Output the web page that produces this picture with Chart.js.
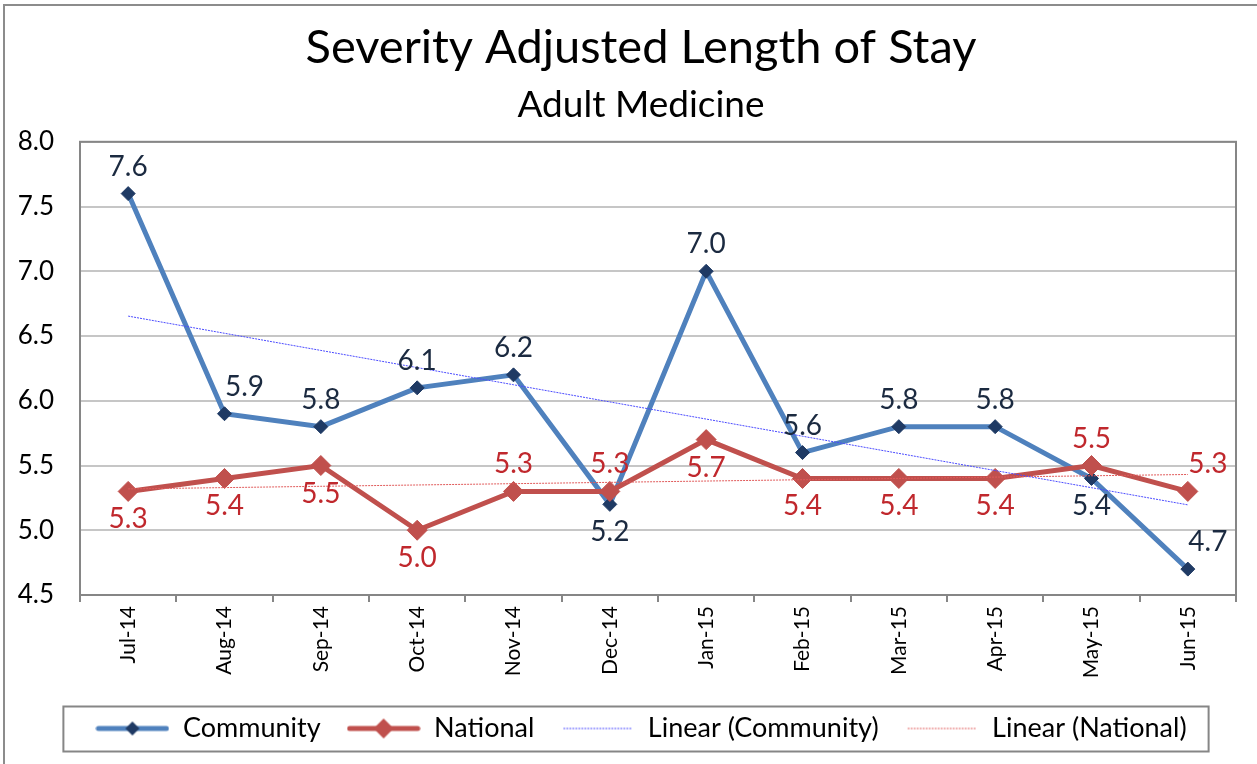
<!DOCTYPE html>
<html lang="en">
<head>
    <meta charset="UTF-8">
    <title>Severity Adjusted Length of Stay</title>
    <script src="https://cdn.jsdelivr.net/npm/chart.js"></script>
    <style>
        body { margin: 0; background: #fff; overflow: hidden; }
        #frame { position: absolute; left: 3px; top: 4px; width: 1272px; height: 790px; border: 2px solid #8c8c8c; background: #fff; }
    </style>
</head>
<body>
    <div id="frame"><canvas id="losChart" width="1272" height="790"></canvas></div>

    <script>
        const months = ['Jul-14', 'Aug-14', 'Sep-14', 'Oct-14', 'Nov-14', 'Dec-14', 'Jan-15', 'Feb-15', 'Mar-15', 'Apr-15', 'May-15', 'Jun-15'];
        const community = [7.6, 5.9, 5.8, 6.1, 6.2, 5.2, 7.0, 5.6, 5.8, 5.8, 5.4, 4.7];
        const national = [5.3, 5.4, 5.5, 5.0, 5.3, 5.3, 5.7, 5.4, 5.4, 5.4, 5.5, 5.3];
        const yMin = 4.5, yMax = 8.0, yStep = 0.5;
        const legendNames = ['Community', 'National', 'Linear (Community)', 'Linear (National)'];

        // where each value label sits relative to its point
        const communityLabelPos = ['up', 'upRight', 'up', 'up', 'up', 'down', 'up', 'up', 'up', 'up', 'down', 'upRight'];
        const nationalLabelPos = ['down', 'down', 'down', 'down', 'up', 'up', 'down', 'down', 'down', 'down', 'up', 'upRight'];
        const labelOffsets = { up: [0, -27], down: [0, 28], upRight: [20, -27] };

        const blue = '#4F81BD', navy = '#1F3A64', red = '#C0504D';
        const FONT = 'Lato';

        // least squares line, like the spreadsheet's linear trendline
        function linearTrend(values) {
            const n = values.length;
            const mx = (n - 1) / 2;
            const my = values.reduce((a, b) => a + b, 0) / n;
            let sxy = 0, sxx = 0;
            values.forEach((v, i) => { sxy += (i - mx) * (v - my); sxx += (i - mx) * (i - mx); });
            const slope = sxy / sxx;
            return values.map((v, i) => my + slope * (i - mx));
        }

        function legendIcon(color, markColor, r, width, dash) {
            const c = document.createElement('canvas');
            c.width = 74; c.height = 26;
            const g = c.getContext('2d');
            g.strokeStyle = color;
            g.lineWidth = width;
            g.lineCap = dash ? 'butt' : 'round';
            if (dash) g.setLineDash(dash);
            g.beginPath(); g.moveTo(3, 13); g.lineTo(71, 13); g.stroke();
            if (r) {
                g.fillStyle = markColor;
                g.beginPath();
                g.moveTo(37, 13 - r); g.lineTo(37 + r, 13); g.lineTo(37, 13 + r); g.lineTo(37 - r, 13);
                g.closePath(); g.fill();
            }
            return c;
        }
        const legendIcons = [
            legendIcon(blue, navy, 7, 5),
            legendIcon(red, red, 10, 5),
            legendIcon('#5050ff', null, 0, 1, [2, 1]),
            legendIcon('#e06666', null, 0, 1, [2, 1])
        ];

        const valueLabels = {
            id: 'valueLabels',
            afterDatasetsDraw(chart) {
                const ctx = chart.ctx;
                ctx.save();
                ctx.font = '28px ' + FONT;
                ctx.textAlign = 'center';
                ctx.textBaseline = 'middle';
                [[0, '#1B2A40', communityLabelPos], [1, '#C0282D', nationalLabelPos]].forEach(([di, color, pos]) => {
                    const meta = chart.getDatasetMeta(di);
                    const vals = chart.data.datasets[di].data;
                    meta.data.forEach((pt, i) => {
                        const off = labelOffsets[pos[i]];
                        ctx.fillStyle = color;
                        ctx.fillText(vals[i].toFixed(1), pt.x + off[0], pt.y + off[1]);
                    });
                });
                ctx.restore();
            }
        };

        const boxes = {
            id: 'boxes',
            beforeDatasetsDraw(chart) {
                const { ctx, chartArea: a } = chart;
                ctx.save();
                ctx.strokeStyle = '#868686';
                ctx.lineWidth = 2;
                ctx.strokeRect(a.left, a.top, a.right - a.left, a.bottom - a.top);
                ctx.restore();
            },
            afterDraw(chart) {
                const hb = chart.legend.legendHitBoxes;
                if (!hb || !hb.length) return;
                const last = hb[hb.length - 1];
                const cy = hb[0].top + hb[0].height / 2;
                const ctx = chart.ctx;
                ctx.save();
                ctx.strokeStyle = '#868686';
                ctx.lineWidth = 2;
                ctx.strokeRect(hb[0].left - 32, cy - 22, last.left + last.width + 22 - (hb[0].left - 32), 45);
                ctx.restore();
            }
        };

        new Chart(document.getElementById('losChart'), {
            type: 'line',
            data: {
                labels: months,
                datasets: [
                    {
                        label: 'Community', data: community, order: 3,
                        borderColor: blue, borderWidth: 5, backgroundColor: navy,
                        pointStyle: 'rectRot', pointRadius: 7, pointBackgroundColor: navy, pointBorderColor: navy, pointBorderWidth: 1
                    },
                    {
                        label: 'National', data: national, order: 2,
                        borderColor: red, borderWidth: 5, backgroundColor: red,
                        pointStyle: 'rectRot', pointRadius: 10, pointBackgroundColor: red, pointBorderColor: red, pointBorderWidth: 1
                    },
                    {
                        label: 'Linear (Community)', data: linearTrend(community), order: 1,
                        borderColor: '#4b4bff', borderWidth: 1, borderDash: [2, 1], pointRadius: 0
                    },
                    {
                        label: 'Linear (National)', data: linearTrend(national), order: 1,
                        borderColor: '#e05a5a', borderWidth: 1, borderDash: [2, 1], pointRadius: 0
                    }
                ]
            },
            options: {
                responsive: false,
                animation: false,
                devicePixelRatio: 1,
                layout: { padding: { left: 0, right: 0, top: 0, bottom: 44 } },
                plugins: {
                    title: {
                        display: true, text: 'Severity Adjusted Length of Stay', color: '#000',
                        font: { family: FONT, size: 47, weight: 'normal' }, padding: { top: 14, bottom: 6 }
                    },
                    subtitle: {
                        display: true, text: 'Adult Medicine', color: '#000',
                        font: { family: FONT, size: 37, weight: 'normal' }, padding: { top: 0, bottom: 15 }
                    },
                    legend: {
                        position: 'bottom',
                        labels: {
                            usePointStyle: true, pointStyleWidth: 74, padding: 26, color: '#000',
                            font: { family: FONT, size: 27 },
                            generateLabels: () => legendNames.map((name, i) => ({
                                text: name, pointStyle: legendIcons[i], fillStyle: 'transparent',
                                strokeStyle: 'transparent', lineWidth: 0, hidden: false, datasetIndex: i
                            }))
                        }
                    },
                    tooltip: { enabled: false }
                },
                scales: {
                    x: {
                        offset: true,
                        grid: { display: true, drawOnChartArea: false, drawTicks: true, tickLength: 7, color: '#868686', lineWidth: 2, offset: true },
                        border: { display: true, color: '#868686', width: 2 },
                        ticks: { color: '#000', minRotation: 90, maxRotation: 90, padding: 4, font: { family: FONT, size: 21 } },
                        afterFit: s => { s.height = 94; }
                    },
                    y: {
                        min: yMin, max: yMax,
                        grid: { color: '#c6c6c6', lineWidth: 2, drawTicks: false },
                        border: { display: true, color: '#868686', width: 2 },
                        ticks: { stepSize: yStep, padding: 26, color: '#000', font: { family: FONT, size: 26 }, callback: v => v.toFixed(1) },
                        afterFit: s => { s.width = 75; }
                    },
                    yr: {
                        type: 'linear', position: 'right', display: true,
                        grid: { display: false }, border: { display: false }, ticks: { display: false },
                        afterFit: s => { s.width = 41; }
                    }
                }
            },
            plugins: [valueLabels, boxes]
        });
    </script>
</body>
</html>
